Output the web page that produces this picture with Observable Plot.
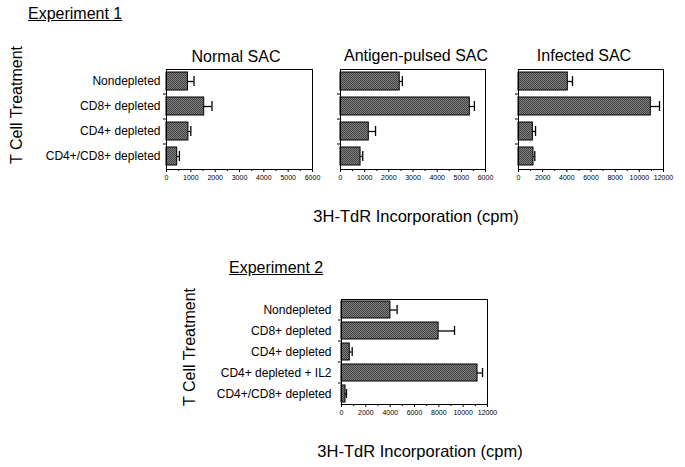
<!DOCTYPE html>
<html>
<head>
<meta charset="utf-8">
<script src="https://cdn.jsdelivr.net/npm/d3@7"></script>
<script src="https://cdn.jsdelivr.net/npm/@observablehq/plot@0.6"></script>
<style>
  html, body { margin: 0; padding: 0; background: #fff; }
  #root { position: relative; width: 685px; height: 467px; overflow: hidden; background: #fff;
          font-family: "Liberation Sans", Arial, Helvetica, sans-serif; color: #000; }
  .abs { position: absolute; white-space: nowrap; line-height: 1; }
  .ctr { transform: translateX(-50%); }
  .vert { transform: translate(-50%, -50%) rotate(-90deg); }
  svg { position: absolute; overflow: visible; }
</style>
</head>
<body>
<svg width="0" height="0" style="position:absolute">
  <defs>
    <pattern id="checker" width="2" height="2" patternUnits="userSpaceOnUse">
      <rect width="2" height="2" fill="#424242"></rect>
      <rect x="0" y="0" width="1" height="1" fill="#808080"></rect>
      <rect x="1" y="1" width="1" height="1" fill="#808080"></rect>
    </pattern>
  </defs>
</svg>
<div id="root"></div>
<script>
// ---------- data ----------
const exp1Categories = ["Nondepleted", "CD8+ depleted", "CD4+ depleted", "CD4+/CD8+ depleted"];
const normalSacValues = [880, 1550, 900, 440];
const normalSacUpper  = [1130, 1870, 1000, 530];
const antigenSacValues = [2450, 5350, 1170, 830];
const antigenSacUpper  = [2560, 5540, 1450, 920];
const infectedSacValues = [4080, 10950, 1190, 1240];
const infectedSacUpper  = [4470, 11670, 1410, 1350];

const exp2Categories = ["Nondepleted", "CD8+ depleted", "CD4+ depleted", "CD4+ depleted + IL2", "CD4+/CD8+ depleted"];
const exp2Values = [4020, 7980, 680, 11180, 330];
const exp2Upper  = [4570, 9290, 880, 11590, 410];

const ticks6000 = [0, 1000, 2000, 3000, 4000, 5000, 6000];
const minor6000 = [500, 1500, 2500, 3500, 4500, 5500];
const ticks12000 = [0, 2000, 4000, 6000, 8000, 10000, 12000];
const minor12000 = [1000, 3000, 5000, 7000, 9000, 11000];

const panelTitles = ["Normal SAC", "Antigen-pulsed SAC", "Infected SAC"];
const xLabel = "3H-TdR Incorporation (cpm)";
const yLabel = "T Cell Treatment";

// ---------- helpers ----------
const root = document.getElementById("root");
function addText(txt, opts) {
  const d = document.createElement("div");
  d.className = "abs " + (opts.cls || "");
  d.textContent = txt;
  d.style.left = opts.x + "px";
  d.style.top = opts.y + "px";
  d.style.fontSize = opts.size + "px";
  if (opts.underline) d.style.textDecoration = "underline";
  root.appendChild(d);
  return d;
}

function panel({cats, vals, upper, domain, ticks, minor, frameLeft, frameTop, frameW, frameH,
                marginLeft, showLabels, padInner, capInset, labelPad}) {
  const data = cats.map((c, i) => ({cat: c, v: vals[i], hi: upper[i]}));
  const marginTop = 4, marginBottom = 24, marginRight = 16;
  const chart = Plot.plot({
    width: marginLeft + frameW + marginRight,
    height: marginTop + frameH + marginBottom,
    marginLeft, marginRight, marginTop, marginBottom,
    style: {background: "transparent", fontFamily: "'Liberation Sans', Arial, sans-serif", color: "#000", overflow: "visible"},
    x: {domain, range: [marginLeft, marginLeft + frameW]},
    y: {domain: cats, paddingInner: padInner, paddingOuter: padInner / 2},
    marks: [
      Plot.barX(data, {x: "v", y: "cat", fill: "url(#checker)", stroke: "#000", strokeWidth: 1}),
      Plot.ruleY(data, {x1: "v", x2: "hi", y: "cat", stroke: "#000", strokeWidth: 1.3}),
      Plot.tickX(data, {x: "hi", y: "cat", stroke: "#000", strokeWidth: 1.3, insetTop: capInset, insetBottom: capInset}),
      Plot.frame({stroke: "#000", strokeWidth: 1}),
      Plot.axisX({ticks, tickSize: 3, tickPadding: 2.5, fontSize: 7, label: null, tickFormat: d => String(d)}),
      Plot.axisX({ticks: minor, tickSize: 2, tickFormat: () => "", label: null}),
      Plot.axisY({tickSize: 0, tickPadding: labelPad, fontSize: showLabels ? 12 : 0, label: null,
                  tickFormat: showLabels ? (d => d) : (() => "")})
    ]
  });
  chart.style.left = (frameLeft - marginLeft) + "px";
  chart.style.top = (frameTop - marginTop) + "px";
  // category boundary tick marks on the left edge
  const n = cats.length;
  const g = d3.select(chart).append("g").attr("stroke", "#000").attr("stroke-width", 1);
  for (let i = 1; i < n; i++) {
    const yy = marginTop + i * frameH / n;
    g.append("line").attr("x1", marginLeft - 3).attr("x2", marginLeft).attr("y1", yy).attr("y2", yy);
  }
  root.appendChild(chart);
  return chart;
}

// ---------- Experiment 1 ----------
addText("Experiment 1", {x: 28, y: 6, size: 16, underline: true});
addText(yLabel, {x: 17, y: 105, size: 16, cls: "vert"});

const p1 = {frameTop: 69, frameW: 146, frameH: 100, padInner: 0.27, capInset: 4, labelPad: 6};
panel({...p1, cats: exp1Categories, vals: normalSacValues, upper: normalSacUpper,
       domain: [0, 6000], ticks: ticks6000, minor: minor6000,
       frameLeft: 166, marginLeft: 166, showLabels: true});
panel({...p1, cats: exp1Categories, vals: antigenSacValues, upper: antigenSacUpper,
       domain: [0, 6000], ticks: ticks6000, minor: minor6000,
       frameLeft: 340, marginLeft: 12, showLabels: false, frameW: 145});
panel({...p1, cats: exp1Categories, vals: infectedSacValues, upper: infectedSacUpper,
       domain: [0, 12000], ticks: ticks12000, minor: minor12000,
       frameLeft: 518, marginLeft: 12, showLabels: false, frameW: 145});

addText(panelTitles[0], {x: 236, y: 49, size: 16, cls: "ctr"});
addText(panelTitles[1], {x: 416, y: 48, size: 16, cls: "ctr"});
addText(panelTitles[2], {x: 584, y: 48, size: 16, cls: "ctr"});

addText(xLabel, {x: 416, y: 208, size: 16.5, cls: "ctr"});

// ---------- Experiment 2 ----------
addText("Experiment 2", {x: 229, y: 260, size: 16, underline: true});
addText(yLabel, {x: 190, y: 347, size: 16, cls: "vert"});

panel({cats: exp2Categories, vals: exp2Values, upper: exp2Upper,
       domain: [0, 12000], ticks: ticks12000, minor: minor12000,
       frameLeft: 341, frameTop: 299, frameW: 146, frameH: 105,
       marginLeft: 341, showLabels: true, padInner: 0.17, capInset: 4, labelPad: 10});

addText(xLabel, {x: 420, y: 443, size: 16.5, cls: "ctr"});
</script>
</body>
</html>
